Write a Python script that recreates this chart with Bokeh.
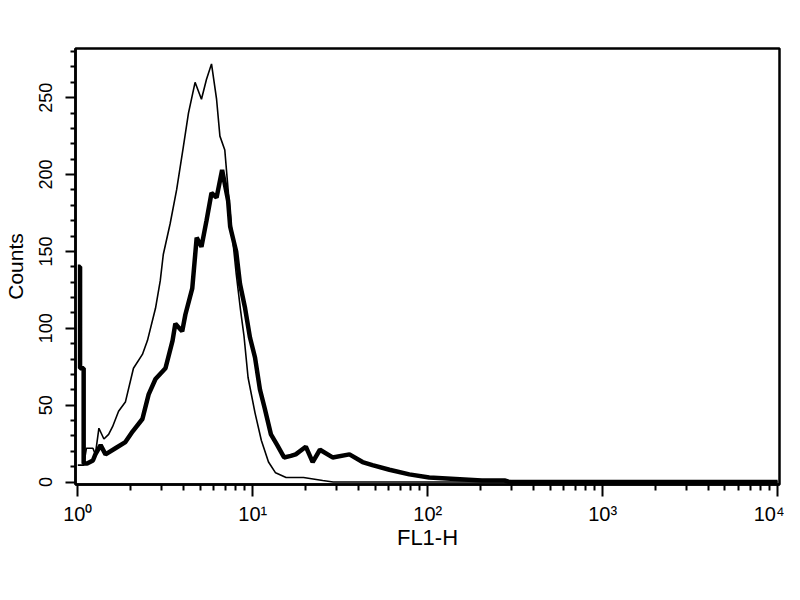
from bokeh.plotting import figure
from bokeh.models import Range1d, FixedTicker, CustomJSTickFormatter
from bokeh.embed import file_html
from bokeh.resources import INLINE

# control histogram (thin line), FL1-H channel value -> counts
ctrl_fl1 = [1.00, 1.08, 1.12, 1.22, 1.26, 1.32, 1.41, 1.50, 1.58, 1.71,
            1.87, 2.08, 2.34, 2.50, 2.78, 2.96, 3.08, 3.37, 3.67, 4.01,
            4.29, 4.68, 5.09, 5.44, 5.81, 6.21, 6.49, 6.92, 7.23, 7.55,
            8.05, 8.51, 8.91, 9.40, 10.3, 11.2, 12.3, 13.5, 15.5, 19.5,
            25.1, 28.8, 10000]
ctrl_counts = [11, 11, 22, 22, 18, 35, 28, 31, 36, 46,
               52, 74, 83, 92, 113, 131, 148, 168, 190, 218,
               240, 260, 249, 262, 272, 249, 225, 216, 190, 166,
               135, 112, 95, 68, 45, 27, 13, 6, 3, 3,
               1, 0, 0]

# stained sample histogram (thick line)
stain_fl1 = [1.00, 1.03, 1.03, 1.08, 1.08, 1.13, 1.22, 1.26, 1.35, 1.44,
             1.64, 1.87, 2.06, 2.34, 2.54, 2.78, 3.17, 3.48, 3.61, 3.95,
             4.12, 4.51, 4.78, 5.09, 5.44, 5.81, 6.21, 6.68, 7.23, 7.43,
             8.04, 8.45, 9.04, 9.64, 10.3, 11.0, 11.7, 12.7, 13.8, 15.1,
             16.5, 17.6, 20.1, 22.0, 24.2, 28.6, 35.7, 42.4, 48.3, 60.4,
             78.5, 102, 144, 204, 275, 295, 10000]
stain_counts = [140, 140, 74, 74, 12, 12, 14, 18, 24, 18,
                22, 26, 33, 41, 57, 67, 74, 92, 103, 98,
                109, 126, 159, 153, 170, 188, 185, 203, 183, 166,
                150, 129, 113, 94, 81, 60, 48, 31, 24, 16,
                17, 18, 23, 13, 21, 16, 18, 13, 11, 8,
                5, 3, 2, 1, 1, 0, 0]

decades = [1, 10, 100, 1000, 10000]
y_major = [0, 50, 100, 150, 200, 250]

p = figure(width=784, height=584, x_axis_type="log",
           x_range=Range1d(0.97, 10250), y_range=Range1d(-1.6, 282),
           output_backend="svg", toolbar_location=None,
           min_border_left=72, min_border_right=5,
           min_border_top=48, min_border_bottom=100)

p.background_fill_color = "white"
p.border_fill_color = "white"
p.outline_line_color = "black"
p.outline_line_width = 2.5
p.grid.visible = False

p.line(ctrl_fl1, ctrl_counts, line_color="black", line_width=1.6)
p.line(stain_fl1, stain_counts, line_color="black", line_width=4.5)

# x axis: decades with 2..9 minor ticks, labels as 10 with superscript exponent
minor_x = [m * d for d in decades[:-1] for m in range(2, 10)]
p.xaxis.ticker = FixedTicker(ticks=decades, minor_ticks=minor_x)
p.xaxis.formatter = CustomJSTickFormatter(code="""
    const sup = {"0": "\u2070", "1": "\u00b9", "2": "\u00b2", "3": "\u00b3", "4": "\u2074"};
    return "10" + sup[String(Math.round(Math.log10(tick)))];
""")
p.xaxis.major_label_standoff = 6
p.xaxis.major_label_text_font = "Liberation Sans"
p.xaxis.major_label_text_font_size = "20px"
p.xaxis.axis_label = "FL1-H"
p.xaxis.axis_label_standoff = -3
p.xaxis.axis_label_text_font = "Liberation Sans"
p.xaxis.axis_label_text_font_size = "22px"
p.xaxis.axis_label_text_font_style = "normal"

# y axis: counts, rotated labels
minor_y = [v for v in range(0, 281, 10) if v % 50 != 0]
p.yaxis.ticker = FixedTicker(ticks=y_major, minor_ticks=minor_y)
p.yaxis.major_label_orientation = "vertical"
p.yaxis.major_label_standoff = 13
p.yaxis.major_label_text_font = "Liberation Sans"
p.yaxis.major_label_text_font_size = "18px"
p.yaxis.axis_label = "Counts"
p.yaxis.axis_label_standoff = 10
p.yaxis.axis_label_text_font = "Liberation Sans"
p.yaxis.axis_label_text_font_size = "21px"
p.yaxis.axis_label_text_font_style = "normal"

for ax in (p.xaxis, p.yaxis):
    ax.axis_line_color = "black"
    ax.axis_line_width = 2.5
    ax.major_tick_line_color = "black"
    ax.major_tick_line_width = 2
    ax.minor_tick_line_color = "black"
    ax.minor_tick_line_width = 2
    ax.major_label_text_color = "black"
    ax.axis_label_text_color = "black"
    ax.major_tick_in = 0
    ax.minor_tick_in = 0

p.xaxis.major_tick_out = 12
p.xaxis.minor_tick_out = 6
p.yaxis.major_tick_out = 10
p.yaxis.minor_tick_out = 5

open("out.html", "w").write(file_html(p, INLINE))
